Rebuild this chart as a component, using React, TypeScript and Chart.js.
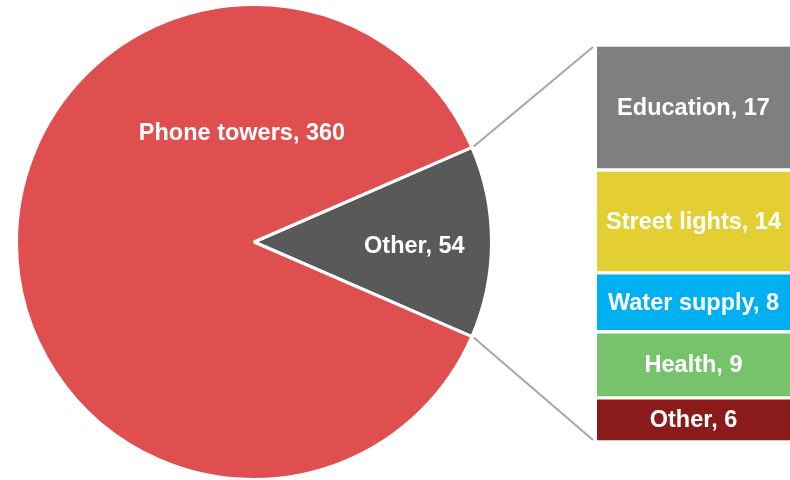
import React, { useEffect, useRef } from "react";
import { Chart, registerables } from "chart.js";

Chart.register(...registerables);

const pieLabels = ["Other", "Phone towers"];
const pieValues = [54, 360];
const pieColors = ["#595959", "#E04F50"];

const barLabels = ["Education", "Street lights", "Water supply", "Health", "Other"];
const barValues = [17, 14, 8, 9, 6];
const barColors = ["#7F7F7F", "#E3CF32", "#00B0F0", "#77C36C", "#8B1A1A"];

const FONT = "bold 23.5px 'Liberation Sans', Arial, sans-serif";

export default function App() {
  const pieRef = useRef<HTMLCanvasElement>(null);
  const barRef = useRef<HTMLCanvasElement>(null);

  useEffect(() => {
    document.body.style.margin = "0";
    document.body.style.overflow = "hidden";
    const total = pieValues.reduce((a, b) => a + b, 0);
    const otherSpan = (pieValues[0] / total) * 360;

    const pieLabelPlugin = {
      id: "pieLabels",
      afterDatasetsDraw(chart: any) {
        const ctx = chart.ctx;
        const meta = chart.getDatasetMeta(0);
        const other = meta.data[0] as any;
        const { x, y, startAngle, endAngle, outerRadius } = other.getProps(
          ["x", "y", "startAngle", "endAngle", "outerRadius"],
          true
        );
        ctx.save();
        ctx.fillStyle = "#FFFFFF";
        ctx.font = FONT;
        ctx.textAlign = "center";
        ctx.textBaseline = "middle";
        const mid = (startAngle + endAngle) / 2;
        const d = outerRadius * 0.675;
        ctx.fillText(`${pieLabels[0]}, ${pieValues[0]}`, x + d * Math.cos(mid), y + d * Math.sin(mid) + 4.5);
        ctx.fillText(`${pieLabels[1]}, ${pieValues[1]}`, x - 12, y - 108);
        ctx.restore();
      },
    };

    const pie = new Chart(pieRef.current!, {
      type: "pie",
      data: {
        labels: pieLabels,
        datasets: [
          {
            data: pieValues,
            backgroundColor: pieColors,
            borderColor: "#FFFFFF",
            borderWidth: 3,
          },
        ],
      },
      options: {
        responsive: false,
        animation: false,
        rotation: 90 - otherSpan / 2,
        radius: 237.5,
        layout: { padding: { left: 16, right: 298, top: 4, bottom: 0 } },
        plugins: { legend: { display: false }, tooltip: { enabled: false } },
        events: [],
      },
      plugins: [pieLabelPlugin],
    });

    const barPlugin = {
      id: "barExtras",
      afterDatasetsDraw(chart: any) {
        const ctx = chart.ctx;
        const n = chart.data.datasets.length;
        ctx.save();
        // connectors
        const arc = pie.getDatasetMeta(0).data[0] as any;
        const { x, y, startAngle, endAngle, outerRadius } = arc.getProps(
          ["x", "y", "startAngle", "endAngle", "outerRadius"],
          true
        );
        const topEl = chart.getDatasetMeta(n - 1).data[0] as any;
        const botEl = chart.getDatasetMeta(0).data[0] as any;
        const left = topEl.x - topEl.width / 2 - 4;
        const r = outerRadius + 2;
        ctx.strokeStyle = "#A6A6A6";
        ctx.lineWidth = 2;
        ctx.beginPath();
        ctx.moveTo(x + r * Math.cos(startAngle), y + r * Math.sin(startAngle));
        ctx.lineTo(left, topEl.y + 2);
        ctx.moveTo(x + r * Math.cos(endAngle), y + r * Math.sin(endAngle));
        ctx.lineTo(left, botEl.base - 2);
        ctx.stroke();
        // labels
        ctx.fillStyle = "#FFFFFF";
        ctx.font = FONT;
        ctx.textAlign = "center";
        ctx.textBaseline = "middle";
        for (let i = 0; i < n; i++) {
          const el = chart.getDatasetMeta(i).data[0] as any;
          const ds = chart.data.datasets[i];
          ctx.fillText(`${ds.label}, ${ds.data[0]}`, el.x, (el.y + el.base) / 2 + 1);
        }
        ctx.restore();
      },
    };

    const sum = barValues.reduce((a, b) => a + b, 0);
    const order = barLabels.map((_, i) => i).reverse();
    const bar = new Chart(barRef.current!, {
      type: "bar",
      data: {
        labels: [""],
        datasets: order.map((i) => ({
          label: barLabels[i],
          data: [barValues[i]],
          backgroundColor: barColors[i],
          borderColor: "#FFFFFF",
          borderWidth: { top: 2, bottom: 2, left: 0, right: 0 },
          borderSkipped: false,
          barPercentage: 1,
          categoryPercentage: 1,
        })),
      },
      options: {
        responsive: false,
        animation: false,
        layout: { padding: { left: 597, right: 0, top: 45, bottom: 38 } },
        scales: {
          x: { stacked: true, display: false },
          y: { stacked: true, display: false, min: 0, max: sum },
        },
        plugins: { legend: { display: false }, tooltip: { enabled: false } },
        events: [],
      },
      plugins: [barPlugin],
    });

    return () => {
      bar.destroy();
      pie.destroy();
    };
  }, []);

  return (
    <div style={{ position: "relative", width: 790, height: 480, background: "#FFFFFF" }}>
      <canvas ref={pieRef} width={790} height={480} style={{ position: "absolute", left: 0, top: 0 }} />
      <canvas ref={barRef} width={790} height={480} style={{ position: "absolute", left: 0, top: 0 }} />
    </div>
  );
}
